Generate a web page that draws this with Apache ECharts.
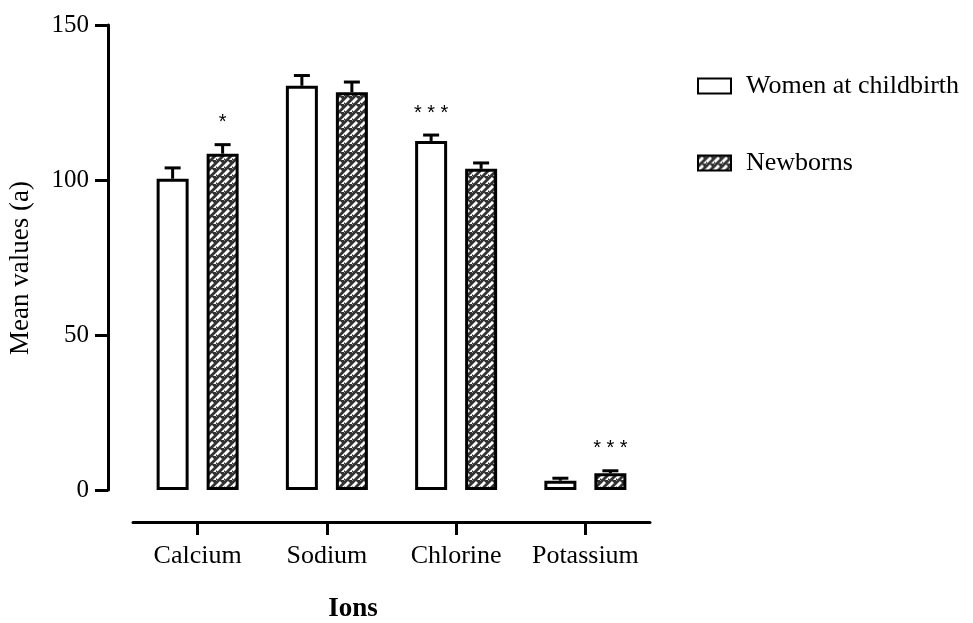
<!DOCTYPE html>
<html>
<head>
<meta charset="utf-8">
<script src="https://cdn.jsdelivr.net/npm/echarts@6/dist/echarts.min.js"></script>
<style>
html,body{margin:0;padding:0;background:#fff;}
#chart{width:973px;height:623px;}
</style>
</head>
<body>
<div id="chart"></div>
<script>
const categories = ['Calcium', 'Sodium', 'Chlorine', 'Potassium'];
const seriesNames = ['Women at childbirth', 'Newborns'];
const womenMean = [100.4, 130.4, 112.6, 3.0];
const womenErr = [3.5, 3.3, 1.9, 0.8];
const newbornMean = [108.5, 128.3, 103.6, 5.4];
const newbornErr = [2.9, 3.3, 1.9, 0.8];
const womenStars = ['', '', '* * *', ''];
const newbornStars = ['*', '', '', '* * *'];
const yTicks = [0, 50, 100, 150];
const yTitle = 'Mean values (a)';
const xTitle = 'Ions';

const FONT = '"Liberation Serif", "DejaVu Serif", serif';

function makePattern() {
  const c = document.createElement('canvas');
  c.width = 8; c.height = 8;
  const g = c.getContext('2d');
  g.fillStyle = '#333333';
  g.fillRect(0, 0, 8, 8);
  g.strokeStyle = '#ffffff';
  g.lineWidth = 2.8;
  g.lineCap = 'butt';
  [[0.5, 6.5, 5, 2], [4.5, 10.5, 9, 6], [-3.5, 2.5, 1, -2]].forEach(s => {
    g.beginPath(); g.moveTo(s[0], s[1]); g.lineTo(s[2], s[3]); g.stroke();
  });
  return c;
}
const pattern = { image: makePattern(), repeat: 'repeat' };

const barW = 32, gapPx = 18;
const half = (barW + gapPx) / 2;

function errSeries(name, means, errs, stars, dx) {
  return {
    type: 'custom',
    name: name + ' err',
    z: 5,
    silent: true,
    data: means.map((m, i) => [i, m, m + errs[i]]),
    renderItem: function (params, api) {
      const i = api.value(0);
      const top = api.coord([i, api.value(1)]);
      const errTop = api.coord([i, api.value(2)]);
      const x = top[0] + dx;
      const capHalf = 8;
      const children = [
        { type: 'line', shape: { x1: x, y1: top[1], x2: x, y2: errTop[1] }, style: { stroke: '#000', lineWidth: 3 } },
        { type: 'line', shape: { x1: x - capHalf, y1: errTop[1], x2: x + capHalf, y2: errTop[1] }, style: { stroke: '#000', lineWidth: 3 } }
      ];
      const s = stars[i];
      if (s) {
        children.push({ type: 'text', style: { text: s, x: x, y: errTop[1] - 12, align: 'center', verticalAlign: 'bottom', font: '20px "Liberation Sans", Arial, sans-serif', fill: '#000' } });
      }
      return { type: 'group', children: children };
    }
  };
}

const chart = echarts.init(document.getElementById('chart'));
chart.setOption({
  animation: false,
  backgroundColor: '#fff',
  grid: { left: 133, right: 323, top: 25, bottom: 133, containLabel: false, outerBoundsMode: 'none' },
  legend: {
    data: seriesNames,
    orient: 'vertical',
    left: 692, top: 68,
    icon: 'rect',
    itemWidth: 33, itemHeight: 15, itemGap: 51,
    textStyle: { fontFamily: FONT, fontSize: 26, color: '#000', padding: [0, 0, 0, 10] },
    selectedMode: false
  },
  graphic: [
    { type: 'text', x: 21, y: 268, rotation: Math.PI / 2, style: { text: yTitle, font: '27px ' + FONT, fill: '#000', align: 'center', verticalAlign: 'middle' } },
    { type: 'text', x: 353, y: 609, style: { text: xTitle, font: 'bold 27px ' + FONT, fill: '#000', align: 'center', verticalAlign: 'middle' } }
  ],
  xAxis: {
    type: 'category',
    data: categories,
    offset: 32,
    axisLine: { onZero: false, lineStyle: { color: '#000', width: 3 } },
    axisTick: { show: true, interval: 0, alignWithLabel: true, length: 13, lineStyle: { width: 3, color: '#000' } },
    axisLabel: { interval: 0, fontFamily: FONT, fontSize: 26, color: '#000', margin: 21 }
  },
  yAxis: {
    type: 'value',
    min: 0, max: 150, interval: 50,
    offset: 25,
    splitLine: { show: false },
    axisLine: { show: true, lineStyle: { color: '#000', width: 3 } },
    axisTick: { show: true, length: 13, lineStyle: { width: 3, color: '#000' } },
    axisLabel: { fontFamily: FONT, fontSize: 25, color: '#000', margin: 19,
      formatter: v => yTicks.includes(v) ? String(v) : '' }
  },
  series: [
    {
      type: 'bar', name: seriesNames[0], data: womenMean,
      barWidth: barW, barGap: (gapPx / barW * 100) + '%',
      itemStyle: { color: '#fff', borderColor: '#000', borderWidth: 3 }
    },
    {
      type: 'bar', name: seriesNames[1], data: newbornMean,
      barWidth: barW,
      itemStyle: { color: pattern, borderColor: '#000', borderWidth: 3 }
    },
    errSeries(seriesNames[0], womenMean, womenErr, womenStars, -half),
    errSeries(seriesNames[1], newbornMean, newbornErr, newbornStars, half)
  ]
});
</script>
</body>
</html>
